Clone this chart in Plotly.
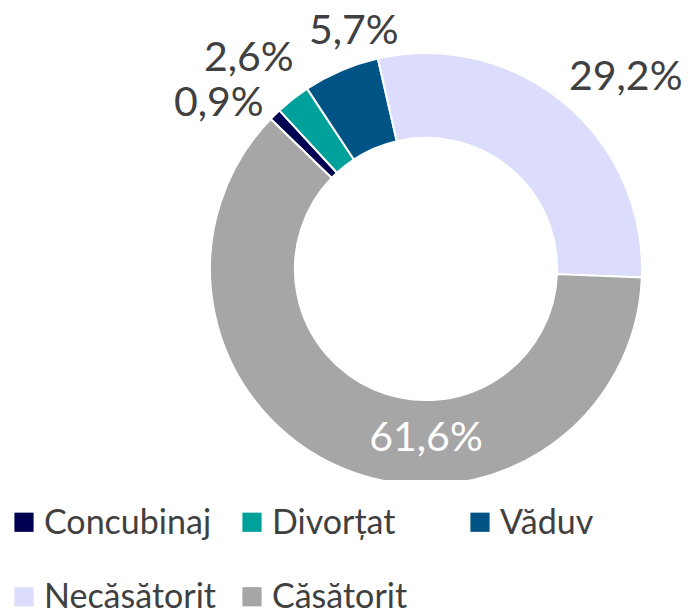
import plotly.graph_objects as go

# marital status shares (%)
categories = ["Concubinaj", "Divorțat", "Văduv", "Necăsătorit", "Căsătorit"]
shares = [0.9, 2.6, 5.7, 29.2, 61.6]
colors = ["#000050", "#00a19b", "#005385", "#dcdcfc", "#a6a6a6"]

W, H = 688, 615
cx, cy, r = 426, 269, 216
TEXT = "#404040"
FONT = "Lato"

# outside labels were placed by hand in the original (centre, px from top-left);
# plotly's own outside labels would stack the thin ones off the top edge
outside_xy = {
    "Concubinaj": (219, 101),
    "Divorțat": (249, 55),
    "Văduv": (354, 28),
    "Necăsătorit": (626, 74),
}
label_pos = ["none" if c in outside_xy else "inside" for c in categories]

# legend rows in the original are widely spaced: a big legend font gives the
# row height, the span keeps the visible text at its real size
legend_names = [
    f'<span style="font-size:34px;baseline-shift:10px">{c}</span>' for c in categories
]

fig = go.Figure(
    go.Pie(
        labels=legend_names,
        values=shares,
        sort=False,
        direction="clockwise",
        rotation=314,
        hole=0.607,
        marker=dict(colors=colors, line=dict(color="white", width=2)),
        texttemplate="%{value:.1f}%",
        textposition=label_pos,
        textfont=dict(size=41, color="white", family=FONT),
        insidetextorientation="horizontal",
        hoverinfo="skip",
        domain=dict(x=[(cx - r) / W, (cx + r) / W],
                    y=[(H - cy - r) / H, (H - cy + r) / H]),
    )
)

for cat, val in zip(categories, shares):
    if cat not in outside_xy:
        continue
    px, py = outside_xy[cat]
    fig.add_annotation(
        x=px / W, y=1 - py / H, xref="paper", yref="paper",
        text=f"{val:.1f}%".replace(".", ","),
        showarrow=False, xanchor="center", yanchor="middle",
        font=dict(size=41, color=TEXT, family=FONT),
    )

fig.update_layout(
    width=W,
    height=H,
    margin=dict(l=0, r=0, t=0, b=0, autoexpand=False),
    separators=", ",
    paper_bgcolor="white",
    plot_bgcolor="white",
    font=dict(family=FONT, color=TEXT),
    legend=dict(
        orientation="h",
        x=4 / W,
        xanchor="left",
        y=(H - 480) / H,
        yanchor="top",
        entrywidth=183,
        entrywidthmode="pixels",
        font=dict(size=55, family=FONT, color=TEXT),
        traceorder="normal",
    ),
)

# page without body margin, and bigger legend squares like the original
post = """
document.body.style.margin = '0';
document.querySelectorAll('path.legendpie').forEach(function (p) {
    var t = p.getAttribute('transform') || '';
    p.setAttribute('transform', t + ' scale(1.6)');
    p.style.strokeWidth = '0';
});
"""

fig.write_html("out.html", config={"displayModeBar": False}, post_script=post)
